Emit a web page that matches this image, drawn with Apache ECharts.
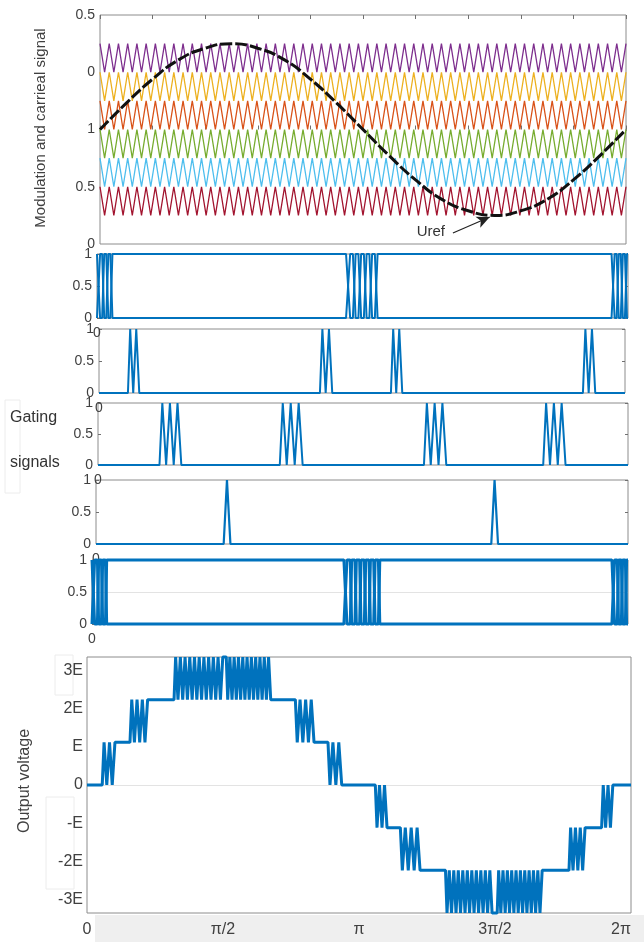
<!DOCTYPE html>
<html><head><meta charset="utf-8">
<script src="https://cdn.jsdelivr.net/npm/echarts@6/dist/echarts.min.js"></script>
<style>html,body{margin:0;padding:0;background:#fff}#c{width:644px;height:942px}</style>
</head><body><div id="c"></div>
<script>
// ---------------- data ----------------
// carrier bands (lower, upper) top to bottom, and number of carrier cycles over the period
const carrierBands = [[0.5,0.75],[0.25,0.5],[0,0.25],[-0.25,0],[-0.5,-0.25],[-0.75,-0.5]];
const carrierCycles = 57;
// reference (Uref) samples
const refT = [0,0.05,0.1,0.15,0.2,0.25,0.3,0.35,0.4,0.45,0.5,0.55,0.6,0.65,0.7,0.75,0.8,0.85,0.9,0.95,1];
const refV = [0,0.23,0.44,0.61,0.71,0.75,0.71,0.61,0.44,0.23,0,-0.23,-0.44,-0.61,-0.71,-0.75,-0.71,-0.61,-0.44,-0.23,0];
// tick labels
const modYLabels = ['0','0.5','1','0','0.5'];      // at -1,-0.5,0,0.5,1
const gateYLabels = ['0','0.5','1'];
const gateXLabels = ['0',''];
const outYLabels = ['-3E','-2E','-E','0','E','2E','3E'];
const outXLabels = ['0','π/2','π','3π/2','2π'];
// waveform pieces: [t0, t1, level] flat, or [t0, t1, fromLevel, toLevel, edgeCount] switching burst
const gate1 = [[0,0.031,1,0,4],[0.031,0.469,1],[0.469,0.531,1,0,6],[0.531,0.969,1],[0.969,1,1,0,4]];
const gate1c = [[0,0.031,0,1,4],[0.031,0.469,0],[0.469,0.531,0,1,6],[0.531,0.969,0],[0.969,1,0,1,4]];
const gate2 = [[0,0.055,0],[0.055,0.078,0,1,4],[0.078,0.42,0],[0.42,0.445,0,1,4],[0.445,0.555,0],[0.555,0.578,0,1,4],[0.578,0.92,0],[0.92,0.945,0,1,4],[0.945,1,0]];
const gate3 = [[0,0.116,0],[0.116,0.159,0,1,6],[0.159,0.343,0],[0.343,0.388,0,1,6],[0.388,0.615,0],[0.615,0.659,0,1,6],[0.659,0.84,0],[0.84,0.884,0,1,6],[0.884,1,0]];
const gate4 = [[0,0.24,0],[0.24,0.253,0,1,2],[0.253,0.743,0],[0.743,0.756,0,1,2],[0.756,1,0]];
const gate5 = [[0,0.03,1,0,4],[0.03,0.47,1],[0.47,0.54,1,0,8],[0.54,0.97,1],[0.97,1,1,0,4]];
const gate5c = [[0,0.03,0,1,4],[0.03,0.47,0],[0.47,0.54,0,1,8],[0.54,0.97,0],[0.97,1,0,1,4]];
const outPieces = [
 [0,0.028,0],[0.028,0.053,0,1,5],[0.053,0.079,1],[0.079,0.113,1,2,7],[0.113,0.160,2],
 [0.160,0.251,2,3,21],[0.251,0.256,3],[0.256,0.339,3,2,21],[0.339,0.383,2],[0.383,0.419,2,1,7],
 [0.419,0.443,1],[0.443,0.470,1,0,5],[0.470,0.530,0],[0.530,0.553,0,-1,5],[0.553,0.576,-1],
 [0.576,0.614,-1,-2,7],[0.614,0.659,-2],[0.659,0.746,-2,-3,21],[0.746,0.754,-3],[0.754,0.838,-3,-2,21],
 [0.838,0.886,-2],[0.886,0.917,-2,-1,7],[0.917,0.946,-1],[0.946,0.968,-1,0,5],[0.968,1,0]
];

// ---------------- builders ----------------
function wave(pieces, slant) {
  const pts = [];
  pieces.forEach(p => {
    const [t0, t1, a, b, k] = p;
    if (!k) { pts.push([t0, a], [t1, a]); return; }
    const sp = (t1 - t0) / k, w = sp * slant;
    let cur = a;
    pts.push([t0, a]);
    for (let j = 0; j < k; j++) {
      const c = t0 + (j + 0.5) * sp;
      const nxt = cur === a ? b : a;
      pts.push([c - w / 2, cur], [c + w / 2, nxt]);
      cur = nxt;
    }
    pts.push([t1, cur]);
  });
  return pts;
}
function carrier(band) {
  const pts = [], n = 2 * carrierCycles;
  for (let i = 0; i <= n; i++) pts.push([i / n, i % 2 ? band[0] : band[1]]);
  return pts;
}

const carrierColors = ['#7E2F8E','#EDB120','#D95319','#77AC30','#4DBEEE','#A2142F'];
const BLUE = '#0072BD', TXT = '#404040', BORDER = '#8c8c8c', TICK = '#707070';
const FONT = 'Liberation Sans, Arial, sans-serif';

const grids = [
  {left:100, top:15, width:526, height:229},
  {left:97, top:254, width:531, height:64},
  {left:99, top:329, width:526, height:64},
  {left:98, top:403, width:530, height:62},
  {left:96, top:480, width:532, height:64},
  {left:92, top:560, width:536, height:64},
  {left:87, top:657, width:544, height:256}
].map(g => Object.assign({show:true, borderColor:BORDER, borderWidth:1, backgroundColor:'transparent'}, g));

const xAxis = [], yAxis = [];
// grid 0
const topTick = {show:true, inside:true, length:4, lineStyle:{color:TICK}};
xAxis.push({type:'value', gridIndex:0, min:0, max:1, interval:0.1, axisLine:{show:false}, axisTick:topTick, axisLabel:{show:false}, splitLine:{show:false}});
xAxis.push({type:'value', gridIndex:0, position:'top', min:0, max:1, interval:0.1, axisLine:{show:false}, axisTick:topTick, axisLabel:{show:false}, splitLine:{show:false}});
yAxis.push({type:'value', gridIndex:0, min:-1, max:1, interval:0.5, axisLine:{show:false}, axisTick:{show:false}, splitLine:{show:false},
  axisLabel:{margin:5, fontSize:14, color:TXT, formatter: v => modYLabels[Math.round((v + 1) / 0.5)]}});
// grids 1..5
for (let g = 1; g <= 5; g++) {
  xAxis.push({type:'value', gridIndex:g, min:0, max:1, interval:1, axisLine:{show:false}, axisTick:{show:false}, splitLine:{show:false},
    axisLabel:{margin:8, fontSize:14, color:TXT, formatter: v => gateXLabels[Math.round(v)]}});
  yAxis.push({type:'value', gridIndex:g, min:0, max:1, interval:0.5, axisLine:{show:false}, splitLine:{show:false},
    axisTick:{show:true, inside:true, length:3, lineStyle:{color:TICK}},
    axisLabel:{margin:5, fontSize:14, color:TXT, formatter: v => gateYLabels[Math.round(v / 0.5)]}});
  yAxis.push({type:'value', gridIndex:g, position:'right', min:0, max:1, interval:0.5, axisLine:{show:false}, splitLine:{show:false},
    axisTick:{show:true, inside:true, length:3, lineStyle:{color:TICK}}, axisLabel:{show:false}});
}
// grid 6
xAxis.push({type:'value', gridIndex:6, min:0, max:1, interval:0.25, axisLine:{show:false}, axisTick:{show:false}, splitLine:{show:false},
  axisLabel:{margin:9, fontSize:16, color:TXT, alignMaxLabel:'right', formatter: v => outXLabels[Math.round(v / 0.25)]}});
yAxis.push({type:'value', gridIndex:6, min:-3, max:3, interval:1, axisLine:{show:false}, axisTick:{show:false}, splitLine:{show:false}, axisLabel:{show:false}});
yAxis.push({type:'value', gridIndex:6, position:'left', min:-3.35, max:3.35, axisLine:{show:false}, axisTick:{show:false}, splitLine:{show:false},
  axisLabel:{margin:4, fontSize:16, color:TXT, customValues:[-3,-2,-1,0,1,2,3], formatter: v => outYLabels[Math.round(v) + 3]}});

const yLeft = g => 1 + (g - 1) * 2;   // left y axis of grids 1..5
const Y6 = 11;

const series = [];
carrierBands.forEach((b, i) => series.push({
  type:'line', xAxisIndex:0, yAxisIndex:0, data:carrier(b), showSymbol:false, silent:true, animation:false,
  lineStyle:{color:carrierColors[i], width:1.3}, z:2
}));
series.push({
  type:'line', xAxisIndex:0, yAxisIndex:0, data:refT.map((t, i) => [t, refV[i]]), smooth:0.5, showSymbol:false, animation:false,
  lineStyle:{color:'#111', width:3, type:[12,3]}, z:5,
  markLine:{silent:true, animation:false, symbol:['none','arrow'], symbolSize:[9,13],
    lineStyle:{color:'#222', width:1.2, type:'solid'}, label:{show:false},
    data:[[{coord:[0.671,-0.904]},{coord:[0.741,-0.764]}]]},
  markPoint:{silent:true, animation:false, symbol:'circle', symbolSize:1, itemStyle:{color:'rgba(0,0,0,0)'},
    label:{show:true, formatter:'Uref', color:'#333', fontSize:15, position:'inside'},
    data:[{coord:[0.629,-0.895]}]}
});
function gateSeries(g, pieces, width, slant) {
  return {type:'line', xAxisIndex:g + 1, yAxisIndex:yLeft(g), data:wave(pieces, slant), showSymbol:false, clip:false,
    silent:true, animation:false, lineStyle:{color:BLUE, width:width}, z:3};
}
function faintLine(xi, yi, val) {
  return {type:'line', xAxisIndex:xi, yAxisIndex:yi, data:[], silent:true, animation:false, z:1,
    markLine:{z:1, silent:true, animation:false, symbol:'none', label:{show:false},
      lineStyle:{color:'#e3e3e3', width:1, type:'solid'}, data:[{yAxis:val}]}};
}
series.push(gateSeries(1, gate1, 2, 0.5));
series.push(gateSeries(1, gate1c, 2, 0.5));
series.push(gateSeries(2, gate2, 2, 0.5));
series.push(gateSeries(3, gate3, 2, 0.5));
series.push(gateSeries(4, gate4, 2.2, 0.9));
series.push(faintLine(6, yLeft(5), 0.5));
series.push(gateSeries(5, gate5, 3, 0.3));
series.push(gateSeries(5, gate5c, 3, 0.3));
series.push(faintLine(7, Y6, 0));
series.push({type:'line', xAxisIndex:7, yAxisIndex:Y6, data:wave(outPieces, 0.35), showSymbol:false, clip:false,
  silent:true, animation:false, lineStyle:{color:BLUE, width:3}, z:3});

const graphic = [
  {type:'rect', z:-1, shape:{x:95, y:915, width:549, height:27}, style:{fill:'#efefef'}},
  {type:'rect', z:-1, shape:{x:5, y:400, width:15, height:93}, style:{fill:'none', stroke:'#ececec', lineWidth:1}},
  {type:'rect', z:-1, shape:{x:55, y:655, width:18, height:40}, style:{fill:'none', stroke:'#ececec', lineWidth:1}},
  {type:'rect', z:-1, shape:{x:46, y:797, width:28, height:92}, style:{fill:'none', stroke:'#ececec', lineWidth:1}},
  {type:'text', x:41, y:128, rotation:Math.PI / 2, style:{text:'Modulation and carrieal signal', fontSize:15, fill:TXT, textAlign:'center', textVerticalAlign:'middle', fontFamily:FONT}},
  {type:'text', x:10, y:418, style:{text:'Gating', fontSize:16, fill:'#333', textAlign:'left', textVerticalAlign:'middle', fontFamily:FONT}},
  {type:'text', x:10, y:463, style:{text:'signals', fontSize:16, fill:'#333', textAlign:'left', textVerticalAlign:'middle', fontFamily:FONT}},
  {type:'text', x:25, y:781, rotation:Math.PI / 2, style:{text:'Output voltage', fontSize:16, fill:TXT, textAlign:'center', textVerticalAlign:'middle', fontFamily:FONT}}
];

const chart = echarts.init(document.getElementById('c'), null, {renderer:'canvas'});
chart.setOption({
  animation:false,
  backgroundColor:'#fff',
  textStyle:{fontFamily:FONT},
  grid:grids, xAxis:xAxis, yAxis:yAxis, series:series, graphic:graphic
});
</script></body></html>
